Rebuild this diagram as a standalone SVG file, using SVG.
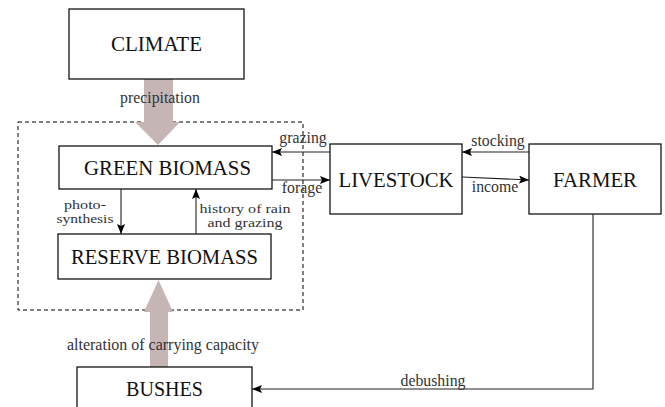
<svg xmlns="http://www.w3.org/2000/svg" width="665" height="407" viewBox="0 0 665 407">
<defs>
<style>
.box{fill:#fff;stroke:#000;stroke-width:1.2}
.big{font-family:"Liberation Serif","DejaVu Serif",serif;font-size:20.5px;fill:#111;text-anchor:middle}
.lbl{font-family:"Liberation Serif","DejaVu Serif",serif;font-size:15.8px;fill:#333;text-anchor:middle}
.sm{font-family:"Liberation Serif","DejaVu Serif",serif;font-size:13.5px;fill:#333;text-anchor:middle}
.con{fill:none;stroke:#222;stroke-width:1.1}
.fat{fill:#c6b5b5;stroke:none}
</style>
<marker id="ah" viewBox="0 0 10 8" refX="10" refY="4" markerWidth="10" markerHeight="8" markerUnits="userSpaceOnUse" orient="auto">
<path d="M0,0 L10,4 L0,8 L2,4 Z" fill="#000"/>
</marker>
</defs>
<rect x="0" y="0" width="665" height="407" fill="#fff"/>
<rect x="18" y="122" width="285" height="188" fill="none" stroke="#000" stroke-width="1" stroke-dasharray="4,3"/>
<g id="fat-arrows">
<path class="fat" d="M144,79 H173 V122 H180 L158,145 L135,122 H144 Z"/>
<path class="fat" d="M150,367 V312 H144 L158.5,280 L173,312 H168 V367 Z"/>
</g>
<g id="climate"><rect class="box" x="69" y="9" width="175" height="70"/><text class="big" x="156.5" y="50.5" textLength="91" lengthAdjust="spacingAndGlyphs">CLIMATE</text></g>
<g id="green"><rect class="box" x="59" y="146" width="213" height="43"/><text class="big" x="167.5" y="174.5" textLength="167" lengthAdjust="spacingAndGlyphs">GREEN BIOMASS</text></g>
<g id="reserve"><rect class="box" x="58" y="234" width="213" height="45"/><text class="big" x="164.5" y="263.5" textLength="187" lengthAdjust="spacingAndGlyphs">RESERVE BIOMASS</text></g>
<g id="livestock"><rect class="box" x="330" y="144" width="132" height="70"/><text class="big" x="396" y="186.5" textLength="115" lengthAdjust="spacingAndGlyphs">LIVESTOCK</text></g>
<g id="farmer"><rect class="box" x="529" y="144" width="132" height="70"/><text class="big" x="595" y="186.5" textLength="84" lengthAdjust="spacingAndGlyphs">FARMER</text></g>
<g id="bushes"><rect class="box" x="77" y="367" width="175" height="60"/><text class="big" x="164.5" y="395.5" textLength="77" lengthAdjust="spacingAndGlyphs">BUSHES</text></g>
<g id="connectors">
<line class="con" x1="330" y1="152" x2="272" y2="152" marker-end="url(#ah)"/>
<line class="con" x1="272" y1="180" x2="330" y2="180" marker-end="url(#ah)"/>
<line class="con" x1="529" y1="152" x2="462" y2="152" marker-end="url(#ah)"/>
<line class="con" x1="462" y1="177" x2="529" y2="180" marker-end="url(#ah)"/>
<line class="con" x1="121" y1="189" x2="121" y2="234" marker-end="url(#ah)"/>
<line class="con" x1="196" y1="234" x2="196" y2="189" marker-end="url(#ah)"/>
<polyline class="con" points="593,214 593,389 252,389" marker-end="url(#ah)"/>
</g>
<g id="labels">
<text class="lbl" x="160" y="103">precipitation</text>
<text class="lbl" x="303" y="143">grazing</text>
<text class="lbl" x="302" y="193">forage</text>
<text class="lbl" x="498" y="146">stocking</text>
<text class="lbl" x="495" y="192">income</text>
<text class="sm" x="85" y="209" textLength="42" lengthAdjust="spacingAndGlyphs">photo-</text>
<text class="sm" x="85" y="223" textLength="57" lengthAdjust="spacingAndGlyphs">synthesis</text>
<text class="sm" x="245" y="213" textLength="91" lengthAdjust="spacingAndGlyphs">history of rain</text>
<text class="sm" x="245" y="227" textLength="75" lengthAdjust="spacingAndGlyphs">and grazing</text>
<text class="lbl" x="163" y="350" textLength="192" lengthAdjust="spacingAndGlyphs">alteration of carrying capacity</text>
<text class="lbl" x="433" y="386">debushing</text>
</g>
</svg>
